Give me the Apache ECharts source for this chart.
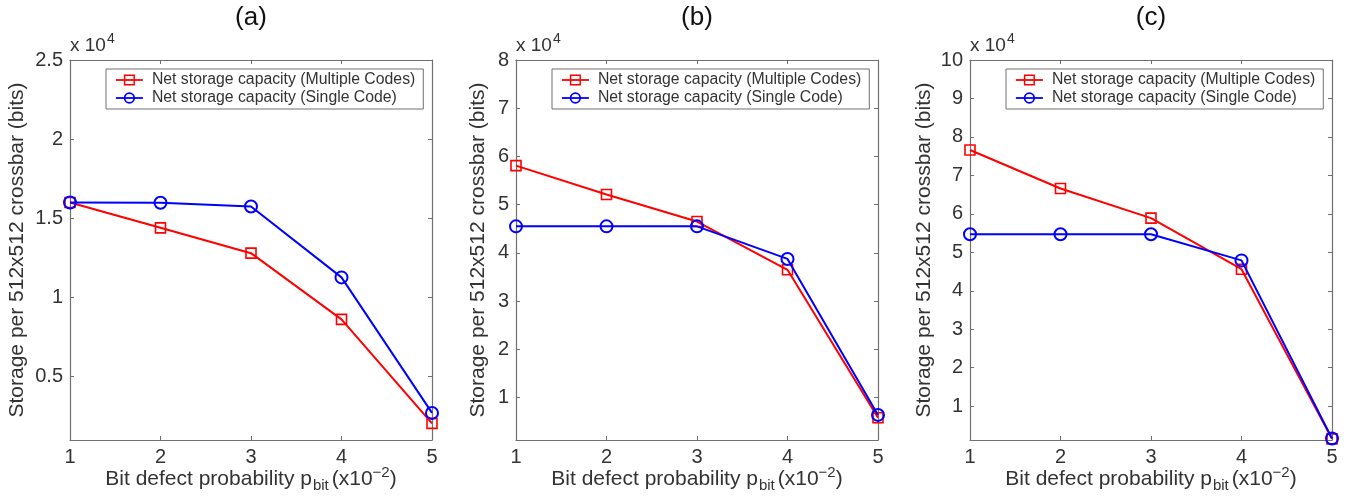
<!DOCTYPE html>
<html>
<head>
<meta charset="utf-8">
<script src="https://cdn.jsdelivr.net/npm/echarts@6/dist/echarts.min.js"></script>
<style>
html,body{margin:0;padding:0;background:#fff;}
#chart{width:1348px;height:497px;}
</style>
</head>
<body>
<div id="chart"></div>
<script>
// ---- data (values in units of 10^4 bits) ----
const xValues = [1, 2, 3, 4, 5];
const xTicks = [1, 2, 3, 4, 5];
const panelTitles = ['(a)', '(b)', '(c)'];
const seriesNames = ['Net storage capacity (Multiple Codes)', 'Net storage capacity (Single Code)'];

const multipleA = [1.60, 1.44, 1.28, 0.862, 0.205];
const singleA   = [1.60, 1.598, 1.575, 1.127, 0.271];
const multipleB = [5.81, 5.21, 4.65, 3.65, 0.58];
const singleB   = [4.55, 4.55, 4.55, 3.875, 0.64];
const multipleC = [7.66, 6.66, 5.89, 4.56, 0.15];
const singleC   = [5.47, 5.47, 5.47, 4.79, 0.16];

const yMinA = 0.1, yMaxA = 2.5;
const yMinB = 0.12, yMaxB = 8;
const yMinC = 0.12, yMaxC = 10;
const yTicksA = [0.5, 1, 1.5, 2, 2.5];
const yTicksB = [1, 2, 3, 4, 5, 6, 7, 8];
const yTicksC = [1, 2, 3, 4, 5, 6, 7, 8, 9, 10];

const xAxisTitle = '{n|Bit defect probability p}{sub|bit}{n|(x10}{sup|\u22122}{n|)}';
const yAxisTitle = 'Storage per 512x512 crossbar (bits)';
const scaleNote = '{a|x 10}{b|4}';

// ---- layout ----
const FONT = 'Liberation Sans, Arial, Helvetica, sans-serif';
const AXIS_COLOR = '#707070';
const TEXT_COLOR = '#333333';
const RED = '#ff0000';
const BLUE = '#0000ff';

const panels = [
  {multi: multipleA, single: singleA, yMin: yMinA, yMax: yMaxA, yTicks: yTicksA, left: 70, nameGap: 42},
  {multi: multipleB, single: singleB, yMin: yMinB, yMax: yMaxB, yTicks: yTicksB, left: 516, nameGap: 27},
  {multi: multipleC, single: singleC, yMin: yMinC, yMax: yMaxC, yTicks: yTicksC, left: 970, nameGap: 35}
];
const PW = 362, PT = 60, PH = 380;

const grid = [], xAxis = [], yAxis = [], series = [], legend = [], graphic = [];

panels.forEach((p, i) => {
  grid.push({left: p.left, top: PT, width: PW, height: PH, containLabel: false, outerBoundsMode: 'none'});
  xAxis.push({
    type: 'value', gridIndex: i, position: 'bottom', min: 1, max: 5, interval: 1,
    axisLine: {show: true, lineStyle: {color: AXIS_COLOR, width: 1.2}},
    axisTick: {show: true, inside: true, length: 4, lineStyle: {color: AXIS_COLOR}},
    axisLabel: {show: true, color: TEXT_COLOR, fontFamily: FONT, fontSize: 20, margin: 7,
      customValues: xTicks},
    splitLine: {show: false},
    name: xAxisTitle, nameLocation: 'middle', nameGap: 25, nameMoveOverlap: false,
    nameTextStyle: {
      color: TEXT_COLOR, fontFamily: FONT, fontSize: 21,
      rich: {
        n: {fontFamily: FONT, fontSize: 21, color: TEXT_COLOR},
        sub: {fontFamily: FONT, fontSize: 15, color: TEXT_COLOR, padding: [13, 3, 0, 1]},
        sup: {fontFamily: FONT, fontSize: 15, color: TEXT_COLOR, padding: [0, 0, 13, 0]}
      }
    }
  });
  xAxis.push({
    type: 'value', gridIndex: i, position: 'top', min: 1, max: 5, interval: 1,
    axisLine: {show: true, onZero: false, lineStyle: {color: AXIS_COLOR, width: 1.2}},
    axisTick: {show: true, inside: true, length: 4, lineStyle: {color: AXIS_COLOR}},
    axisLabel: {show: false}, splitLine: {show: false}
  });
  yAxis.push({
    type: 'value', gridIndex: i, position: 'left', min: p.yMin, max: p.yMax,
    axisLine: {show: true, onZero: false, lineStyle: {color: AXIS_COLOR, width: 1.2}},
    axisTick: {show: true, inside: true, length: 4, lineStyle: {color: AXIS_COLOR}, customValues: p.yTicks},
    axisLabel: {show: true, color: TEXT_COLOR, fontFamily: FONT, fontSize: 20, margin: 7, customValues: p.yTicks},
    splitLine: {show: false},
    name: yAxisTitle, nameLocation: 'middle', nameGap: p.nameGap, nameRotate: 90,
    nameTextStyle: {color: TEXT_COLOR, fontFamily: FONT, fontSize: 21}
  });
  yAxis.push({
    type: 'value', gridIndex: i, position: 'right', min: p.yMin, max: p.yMax,
    axisLine: {show: true, onZero: false, lineStyle: {color: AXIS_COLOR, width: 1.2}},
    axisTick: {show: true, inside: true, length: 4, lineStyle: {color: AXIS_COLOR}, customValues: p.yTicks},
    axisLabel: {show: false}, splitLine: {show: false}
  });

  const xi = i * 2, yi = i * 2;
  series.push({
    name: seriesNames[0], type: 'line', xAxisIndex: xi, yAxisIndex: yi,
    data: xValues.map((x, k) => [x, p.multi[k]]),
    symbol: 'rect', symbolSize: 10, showAllSymbol: true,
    lineStyle: {color: RED, width: 2},
    itemStyle: {color: 'rgba(255,255,255,0)', borderColor: RED, borderWidth: 1.6},
    z: 2
  });
  series.push({
    name: seriesNames[1], type: 'line', xAxisIndex: xi, yAxisIndex: yi,
    data: xValues.map((x, k) => [x, p.single[k]]),
    symbol: 'circle', symbolSize: 12, showAllSymbol: true,
    lineStyle: {color: BLUE, width: 2},
    itemStyle: {color: 'rgba(255,255,255,0)', borderColor: BLUE, borderWidth: 2},
    z: 3
  });

  legend.push({
    orient: 'vertical', left: p.left + 36, top: 69,
    data: [
      {name: seriesNames[0], itemStyle: {color: 'rgba(255,255,255,0)', borderColor: RED, borderWidth: 1.5}, lineStyle: {color: RED, width: 1.8}},
      {name: seriesNames[1], itemStyle: {color: 'rgba(255,255,255,0)', borderColor: BLUE, borderWidth: 1.8}, lineStyle: {color: BLUE, width: 1.8}}
    ],
    backgroundColor: '#ffffff', borderColor: AXIS_COLOR, borderWidth: 1,
    padding: [3, 8, 3, 9], itemGap: 2, itemWidth: 27, itemHeight: 12,
    textStyle: {color: TEXT_COLOR, fontFamily: FONT, fontSize: 15.8, lineHeight: 16, padding: [0, 0, 0, 4]},
    selectedMode: false
  });

  graphic.push({
    type: 'text', x: p.left + PW / 2, y: 18,
    style: {text: panelTitles[i], font: '26px ' + FONT, fill: '#111111', align: 'center', verticalAlign: 'middle'}
  });
  graphic.push({
    type: 'text', x: p.left, y: 46,
    style: {
      text: scaleNote, fill: TEXT_COLOR, align: 'left', verticalAlign: 'middle',
      rich: {
        a: {fontFamily: FONT, fontSize: 19, fill: TEXT_COLOR},
        b: {fontFamily: FONT, fontSize: 14, fill: TEXT_COLOR, padding: [0, 0, 13, 1]}
      }
    }
  });
});

const chart = echarts.init(document.getElementById('chart'), null, {renderer: 'canvas'});
chart.setOption({
  animation: false,
  backgroundColor: '#ffffff',
  grid, xAxis, yAxis, series, legend, graphic,
  tooltip: {show: false}
});
</script>
</body>
</html>
